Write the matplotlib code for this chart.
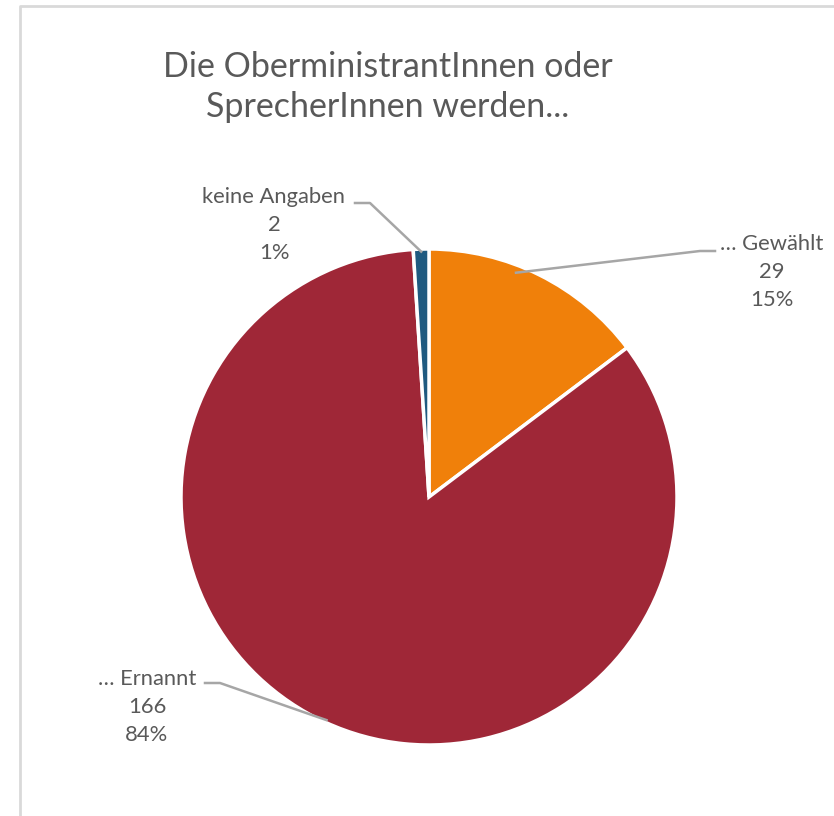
import numpy as np
import matplotlib.pyplot as plt

# Daten
labels = ['… Gewählt', '… Ernannt', 'keine Angaben']
werte = [29, 166, 2]
farben = ['#F0800A', '#9F2737', '#1F5A80']

plt.rcParams['font.family'] = ['Lato', 'DejaVu Sans']

W, H = 834, 816
fig = plt.figure(figsize=(W / 100, H / 100), dpi=100)
ax = fig.add_axes([0, 0, 1, 1])

# Rahmen (nur links und oben sichtbar)
ax.plot([20, 20, W], [0, H - 6, H - 6], color='#D9D9D9', lw=2, solid_capstyle='butt')

# Kreis
cx, cy, r = 429, H - 497, 248
wedges, _ = ax.pie(werte, colors=farben, startangle=90, counterclock=False,
                   center=(cx, cy), radius=r, frame=True,
                   wedgeprops=dict(edgecolor='white', linewidth=2.5))
ax.set_xlim(0, W)
ax.set_ylim(0, H)
ax.set_aspect('equal')
ax.axis('off')

gesamt = sum(werte)
textfarbe = '#595959'

# Beschriftung: Textmitte, Knickpunkte der Führungslinie, Ansatzpunkt im Segment
layout = [
    dict(text=(772, 272), knick=[(715, 251), (700, 251)], anteil=0.6, rf=0.97),
    dict(text=(147, 707), knick=[(205, 683), (220, 683)], anteil=0.5, rf=0.99),
    dict(text=(274, 225), knick=[(355, 203), (370, 203)], anteil=0.5, rf=0.99),
]

for w, lab, wert, lay in zip(wedges, labels, werte, layout):
    winkel = np.deg2rad(w.theta1 + (w.theta2 - w.theta1) * lay['anteil'])
    ax_x = cx + r * lay['rf'] * np.cos(winkel)
    ax_y = cy + r * lay['rf'] * np.sin(winkel)
    xs = [p[0] for p in lay['knick']] + [ax_x]
    ys = [H - p[1] for p in lay['knick']] + [ax_y]
    ax.plot(xs, ys, color='#A6A6A6', lw=1.8)
    pct = round(wert / gesamt * 100)
    ax.text(lay['text'][0], H - lay['text'][1], f'{lab}\n{wert}\n{pct}%',
            ha='center', va='center', fontsize=15.8, color=textfarbe, linespacing=1.5)

# Titel
ax.text(388, H - 87, 'Die OberministrantInnen oder\nSprecherInnen werden...',
        ha='center', va='center', fontsize=24.5, color=textfarbe, linespacing=1.32)

fig.savefig('out.png', dpi=100)
